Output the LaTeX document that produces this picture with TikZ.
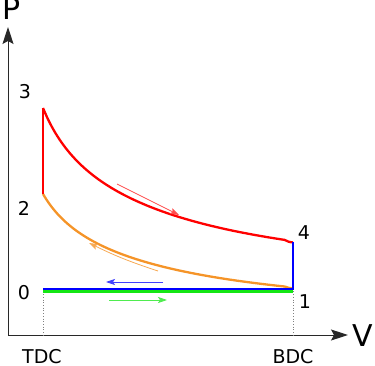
\documentclass[tikz,border=0pt]{standalone}
\usepackage{fontspec}
\setmainfont{DejaVu Sans}
\usetikzlibrary{arrows.meta}
\definecolor{cred}{RGB}{255,0,0}
\definecolor{corange}{RGB}{245,148,40}
\definecolor{cblue}{RGB}{0,0,255}
\definecolor{cgreen}{RGB}{20,230,20}
\definecolor{caxis}{RGB}{40,40,40}
\tikzset{
  axisline/.style={draw=caxis, line width=1pt, -{Stealth[length=17pt,width=11pt,inset=3pt]}},
  bigaxislabel/.style={font=\fontsize{30}{30}\selectfont, inner sep=0pt},
  numlabel/.style={font=\fontsize{19}{19}\selectfont, inner sep=0pt},
  posLabel/.style={font=\fontsize{19}{19}\selectfont, inner sep=0pt},
  dotline/.style={draw=gray, line width=0.7pt, dotted},
  cycleline/.style={line width=2.3pt},
  dirarrow/.style={line width=0.8pt, -{Stealth[length=9pt,width=6pt,inset=2pt]}}
}
\begin{document}
\begin{tikzpicture}[x=1pt,y=-1pt]
\useasboundingbox (0,0) rectangle (375,366);
% axes
\coordinate (O) at (8,335);
\coordinate (Ytip) at (8,27);
\coordinate (Xtip) at (348,335);
\draw[axisline] (O) -- (Ytip);
\draw[axisline] (O) -- (Xtip);
\node[bigaxislabel] (P) at (12,9) {P};
\node[bigaxislabel] (V) at (363,336) {V};
% state points
\coordinate (p3) at (43,108);
\coordinate (p2) at (43,194);
\coordinate (p4) at (293,242.5);
\coordinate (p1) at (293,289);
\coordinate (p0) at (43,289);
\coordinate (g0) at (43,291.5);
\coordinate (g1) at (293,291.5);
\coordinate (tdcb) at (43,335);
\coordinate (bdcb) at (293,335);
% dotted lines
\draw[dotline] (g0) -- (tdcb);
\draw[dotline] (g1) -- (bdcb);
% cycle
\draw[cycleline, cgreen] (g0) -- (g1);
\draw[cycleline, corange] plot[domain=43:293, samples=60, smooth] (\x, {396 - 202*(35/(\x-8))^0.3});
\draw[cycleline, cred] (p2) -- (p3);
\draw[cycleline, cred] plot[domain=43:293, samples=60, smooth] (\x, {396 - 288*(35/(\x-8))^0.3});
\draw[cycleline, cblue] (p4) -- (p1) -- (p0);
% direction arrows
\coordinate (ra) at (117,184);
\coordinate (rb) at (179,215);
\coordinate (oa) at (158,271);
\coordinate (ob) at (89,243);
\coordinate (ba) at (163,282);
\coordinate (bb) at (106,282);
\coordinate (ga) at (109,300);
\coordinate (gb) at (167,300);
\draw[dirarrow, cred!70!white] (ra) -- (rb);
\draw[dirarrow, corange!80!white] (oa) to[bend left=4] (ob);
\draw[dirarrow, cblue!75!white] (ba) -- (bb);
\draw[dirarrow, cgreen!75!white] (ga) -- (gb);
% labels
\node[numlabel] (l3) at (25,92) {3};
\node[numlabel] (l2) at (24,208) {2};
\node[numlabel] (l0) at (24,293) {0};
\node[numlabel] (l4) at (304,233) {4};
\node[numlabel] (l1) at (305,302) {1};
\node[posLabel] (tdc) at (42,357) {TDC};
\node[posLabel] (bdc) at (293,357) {BDC};
\end{tikzpicture}
\end{document}
